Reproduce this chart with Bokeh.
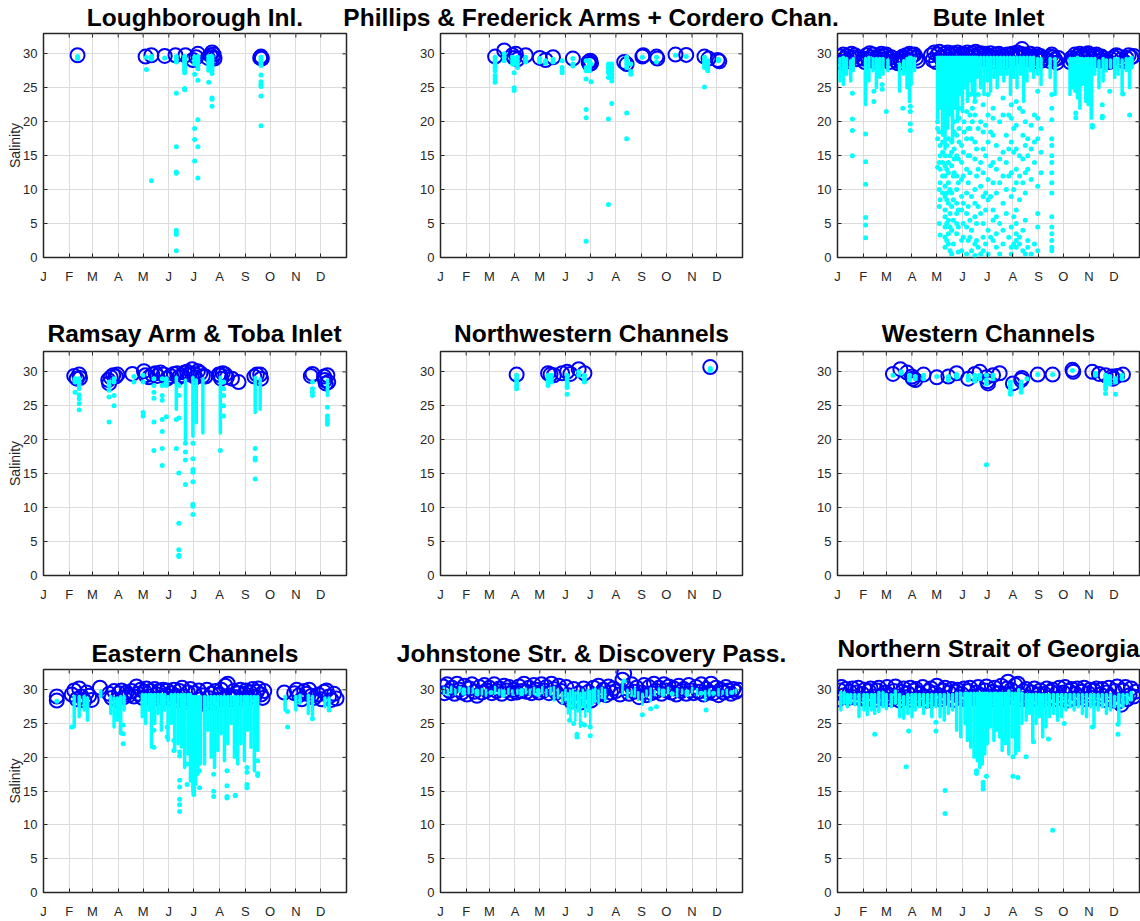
from bokeh.plotting import figure
from bokeh.layouts import column, row
from bokeh.models import FixedTicker, Range1d
from bokeh.embed import file_html
from bokeh.resources import INLINE
from bokeh.core.properties import value

# ---------------------------------------------------------------- axes data
MONTH_DAYS = [1, 32, 60, 91, 121, 152, 182, 213, 244, 274, 305, 335]
MONTH_LABELS = ["J", "F", "M", "A", "M", "J", "J", "A", "S", "O", "N", "D"]
SAL_TICKS = [0, 5, 10, 15, 20, 25, 30]
Y_LABEL = "Salinity"
TITLES = [
    "Loughborough Inl.", "Phillips & Frederick Arms + Cordero Chan.", "Bute Inlet",
    "Ramsay Arm & Toba Inlet", "Northwestern Channels", "Western Channels",
    "Eastern Channels", "Johnstone Str. & Discovery Pass.", "Northern Strait of Georgia",
]

# ---------------------------------------------------------------- Loughborough Inl.
LOUGH_CIRCLES = [(42, 29.8), (124, 29.6), (131, 29.8), (147, 29.7), (160, 29.8), (172, 29.8),
                 (181, 29.1), (185, 29.5), (187, 30.0), (199, 29.4), (202, 29.8), (204, 30.2),
                 (205, 29.5), (206, 29.9), (207, 29.3), (262, 29.4), (263, 29.6), (264, 29.3)]
LOUGH_SEGS = []
LOUGH_CASTS = [
    (42, [29.6, 29.3]),
    (125, [29.5, 27.7]),
    (131, [29.6, 29.2, 11.3]),
    (147, [29.4]),
    (161, [29.6, 29.2, 28.8, 24.2, 16.3, 12.6, 12.4, 4.0, 3.7, 3.4, 1.0]),
    (171, [29.6, 29.2, 28.8, 28.4, 28.0, 27.6, 27.2, 24.9, 24.7]),
    (183, [29.5, 29.0, 28.5, 27.0, 19.0, 17.4, 14.2]),
    (187, [29.6, 29.2, 28.8, 28.3, 27.8, 26.1, 20.3, 16.3, 11.7]),
    (200, [29.6, 29.2, 28.8, 28.4, 28.0, 27.6, 25.8]),
    (204, [29.6, 29.2, 28.8, 28.4, 28.0, 27.6, 27.1, 23.5, 23.3, 22.3]),
    (263, [29.5, 29.1, 28.7, 28.3, 26.9, 25.9, 25.5, 25.2, 23.8, 19.4]),
]

# ---------------------------------------------------------------- Phillips & Frederick
PHIL_CIRCLES = [(67, 29.6), (78, 30.5), (88, 29.8), (90, 29.4), (92, 30.0), (94, 29.2), (104, 29.8),
                (121, 29.4), (128, 29.1), (137, 29.5), (161, 29.3), (180, 28.8), (181, 28.5),
                (182, 29.0), (183, 28.6), (223, 28.8), (226, 28.5), (245, 29.6), (246, 29.8),
                (262, 29.6), (263, 29.3), (285, 29.9), (298, 29.85), (320, 29.6), (325, 29.3),
                (336, 29.1), (338, 28.9)]
PHIL_SEGS = []
PHIL_CASTS = [
    (67, [29.5, 29.0, 28.5, 28.0, 27.5, 26.8, 26.3, 25.8]),
    (78, [30.0, 29.5, 29.0]),
    (88, [29.5, 29.0, 28.5]),
    (90, [29.0, 28.5, 27.2, 25.0, 24.6]),
    (94, [29.5, 29.0, 28.5, 28.0]),
    (104, [29.5, 29.0, 28.8]),
    (121, [29.3, 28.8]),
    (128, [29.0, 28.6]),
    (137, [29.2, 28.8]),
    (148, [29.0, 28.0, 27.5, 27.2]),
    (161, [29.3, 28.5, 28.2]),
    (177, [29.0, 28.0, 27.5, 26.3, 21.8, 20.6, 2.4]),
    (181, [29.0, 28.5, 28.0, 27.5]),
    (183, [28.5, 25.9]),
    (204, [28.5, 28.0, 27.5, 27.2, 26.5, 20.4, 7.8]),
    (208, [28.5, 28.0, 27.5, 27.0, 26.5, 26.0, 22.7]),
    (226, [29.5, 29.0, 28.5, 28.0, 21.3, 17.5]),
    (231, [28.5, 27.4, 27.0]),
    (245, [29.5]),
    (262, [29.5, 28.8]),
    (285, [29.8]),
    (298, [29.6]),
    (320, [29.5, 29.0, 28.5, 28.0, 25.1]),
    (324, [29.0, 28.5, 27.8, 27.5]),
    (337, [29.2, 29.0]),
]

# ---------------------------------------------------------------- Bute Inlet
BUTE_CIRCLES = [
    (2, 29.0), (4, 29.6), (6, 28.7), (8, 29.9), (10, 29.3), (12, 29.7), (14, 28.9), (16, 29.4),
    (18, 30.0), (20, 29.5), (22, 29.8), (24, 29.2),
    (32, 29.3), (34, 28.8), (36, 29.8), (38, 29.2), (40, 30.1), (42, 29.5), (44, 29.9), (46, 28.9),
    (48, 29.4), (50, 28.8), (52, 29.7), (54, 30.0), (56, 29.2), (58, 29.7), (60, 29.9), (62, 29.3),
    (64, 28.8), (66, 29.5),
    (72, 29.0), (74, 28.6), (76, 29.3), (78, 28.8), (80, 29.6), (82, 29.3), (84, 29.8), (86, 29.1),
    (88, 30.0), (90, 29.5), (92, 29.8), (94, 29.9), (96, 29.4), (98, 29.0),
    (114, 29.8), (116, 29.1), (118, 30.2), (120, 28.8), (122, 29.9), (124, 30.3), (126, 29.4),
    (128, 28.9), (130, 30.0), (132, 29.6), (134, 30.2), (136, 29.2), (138, 29.8), (140, 30.1),
    (142, 29.4), (144, 29.9), (146, 30.2), (148, 29.3), (150, 29.7), (152, 30.0), (154, 29.1),
    (156, 29.8), (158, 30.2), (160, 29.5), (162, 29.0), (164, 30.1), (166, 29.7), (168, 30.3),
    (170, 29.4), (172, 29.9), (174, 30.1), (176, 29.3), (178, 29.8), (180, 30.0), (182, 29.2),
    (184, 29.7), (186, 30.1), (188, 29.5), (190, 28.9), (192, 29.9), (194, 29.4), (196, 30.0),
    (198, 29.1), (200, 29.7), (202, 28.8), (204, 29.5), (206, 29.9), (208, 29.2), (210, 29.8),
    (212, 30.0), (214, 29.4), (216, 29.9), (218, 30.2), (220, 29.6), (222, 30.0), (224, 30.7),
    (226, 29.5), (228, 29.9), (230, 29.2), (232, 29.7), (234, 30.0), (236, 29.4), (238, 28.9),
    (240, 29.6), (242, 29.9), (244, 29.3), (246, 29.7), (248, 29.0), (250, 29.4),
    (256, 29.0), (258, 29.6), (260, 29.9), (262, 29.5), (264, 29.2), (266, 28.7), (268, 29.4),
    (282, 28.8), (284, 29.4), (286, 29.0), (288, 29.9), (290, 29.6), (292, 29.2), (294, 30.0),
    (296, 29.5), (298, 29.8), (300, 29.3), (302, 29.9), (304, 30.1), (306, 29.6), (308, 29.2),
    (310, 29.8), (312, 29.5), (314, 29.9), (316, 29.4), (318, 29.0), (320, 29.6), (323, 29.3),
    (326, 29.0), (329, 28.8), (332, 29.2), (335, 29.5), (338, 29.8), (341, 29.6), (344, 29.2),
    (347, 28.9), (350, 29.4), (353, 29.8), (356, 29.5), (359, 29.7),
]
BUTE_SEGS = [
    (4, 26.0, 29.3), (8, 25.5, 29.5), (12, 27.0, 29.3), (17, 26.0, 29.0), (20, 27.5, 29.3),
    (35, 22.5, 29.3), (39, 26.0, 29.5), (44, 27.5, 29.3), (48, 25.0, 29.3), (52, 26.5, 29.3),
    (56, 27.0, 29.3), (62, 27.5, 29.1),
    (76, 24.5, 28.5), (81, 27.0, 29.0), (85, 25.0, 29.3), (88, 23.0, 29.5), (90, 25.5, 29.5),
    (94, 27.5, 29.3),
    (122, 20.5, 29.5), (125, 22.0, 29.5), (128, 18.0, 29.5), (131, 16.0, 29.5), (134, 19.0, 29.5),
    (137, 21.0, 29.5), (140, 17.0, 29.5), (143, 22.0, 29.5), (146, 20.0, 29.5), (149, 24.0, 29.5),
    (152, 21.5, 29.5), (155, 25.0, 29.5), (158, 23.0, 29.5), (161, 26.0, 29.5), (164, 24.0, 29.5),
    (167, 23.0, 29.5), (170, 26.5, 29.5), (174, 25.0, 29.5), (178, 24.0, 29.5), (182, 26.0, 29.5),
    (186, 24.5, 29.5), (190, 26.5, 29.5), (194, 25.0, 29.5), (198, 27.0, 29.5), (202, 26.0, 29.5),
    (206, 27.0, 29.5), (210, 24.0, 29.5), (214, 26.5, 29.5), (218, 25.0, 29.5), (222, 27.0, 29.5),
    (226, 23.0, 29.5), (230, 26.0, 29.5), (234, 27.5, 29.5), (238, 26.5, 29.5), (243, 27.0, 29.3),
    (247, 25.5, 29.3),
    (258, 26.5, 29.3), (264, 24.0, 29.3),
    (282, 24.0, 29.3), (285, 25.0, 29.3), (288, 24.5, 29.3), (291, 23.5, 29.5), (294, 22.0, 29.3),
    (297, 25.5, 29.3), (301, 23.0, 29.3), (304, 22.5, 29.3), (308, 20.5, 29.3), (312, 27.0, 29.3),
    (317, 25.0, 29.0), (322, 26.0, 29.3), (326, 27.5, 29.1), (331, 28.0, 29.1), (336, 26.5, 29.3),
    (340, 27.0, 29.3), (345, 24.0, 29.1), (350, 27.5, 29.3), (354, 25.0, 29.3), (357, 28.0, 29.5),
]
BUTE_CASTS = [
    (19, [24.2, 20.4, 18.7, 15.0]),
    (35, [18.2, 14.1, 10.8, 5.9, 4.8, 2.9]),
    (45, [24.5, 23.0]),
    (55, [25.5, 24.8]),
    (60, [21.5]),
    (80, [22.0]),
    (89, [22.3, 21.5, 19.7, 18.7]),
    (122, [20.0, 19.0, 17.5, 13.3]),
    (124, [18.5, 14.0, 10.0, 7.5, 5.0]),
    (125, [16.5, 15.0, 13.0, 11.0, 8.5, 3.3]),
    (128, [17.0, 15.5, 14.0, 12.0, 9.5]),
    (131, [15.0, 13.5, 12.0, 10.5, 9.0, 7.0, 6.0, 4.5, 3.0, 1.5]),
    (133, [16.5, 13.0, 9.5, 8.5, 5.0, 2.5]),
    (135, [17.5, 14.0, 12.5, 11.0, 8.0, 5.5, 3.5, 2.0]),
    (137, [15.0, 10.0, 6.5, 4.5, 1.0]),
    (139, [17.0, 15.5, 13.5, 9.5, 7.5, 4.0, 0.5]),
    (141, [12.0, 8.5, 5.5, 2.0]),
    (142, [20.0, 18.5, 16.0, 14.5, 12.5]),
    (145, [18.0, 15.0, 12.0, 10.0, 8.0, 6.5, 5.0, 3.5]),
    (147, [14.5, 11.0, 7.0, 4.5, 0.8]),
    (148, [22.0, 20.5, 19.0, 17.0]),
    (151, [16.5, 14.0, 11.5, 9.0, 7.0, 2.5, 1.0]),
    (153, [15.5, 12.0, 8.0, 5.0, 3.0]),
    (154, [20.0, 18.5]),
    (157, [21.5, 17.5, 13.0, 9.5, 6.5, 4.5, 0.5]),
    (159, [19.0, 15.0, 11.0, 7.5, 2.5]),
    (161, [24.0, 21.0, 19.0, 15.0, 12.5, 5.5, 3.0]),
    (163, [17.5, 9.0, 4.0, 1.0]),
    (164, [22.0, 20.0]),
    (167, [23.0, 21.0, 17.0, 14.5, 10.0, 8.0, 6.0, 2.0, 0.3]),
    (169, [16.0, 12.0, 5.0, 2.5]),
    (171, [24.0, 19.0, 13.0, 7.5, 1.5]),
    (174, [20.0, 14.0, 10.5, 6.5, 0.5]),
    (177, [22.5, 18.5, 16.0, 12.5, 9.0, 5.0, 3.0, 1.0]),
    (180, [19.5, 15.0, 9.5, 7.0, 2.0]),
    (183, [24.0, 21.0, 17.0, 11.5, 8.5, 4.0, 0.5]),
    (186, [18.5, 13.5, 9.0, 3.0]),
    (189, [22.0, 20.5, 18.0, 14.0, 11.0, 7.0, 5.5, 2.5]),
    (193, [16.5, 13.0, 9.5, 6.0, 3.5, 1.5]),
    (197, [20.0, 14.5, 11.0, 5.0, 0.5]),
    (201, [23.5, 21.0, 15.5, 12.0, 8.0, 4.0, 2.0]),
    (205, [18.0, 14.0, 10.0, 6.5]),
    (208, [21.0, 16.0, 12.0, 3.0]),
    (211, [22.5, 20.5, 17.0, 12.5, 9.0, 4.5, 1.5, 0.5]),
    (214, [19.0, 15.5, 10.0, 6.0, 2.0]),
    (217, [23.0, 19.5, 16.0, 13.0, 11.0, 7.0, 5.0, 3.5, 2.5, 1.5]),
    (221, [22.0, 15.0, 12.0, 8.5, 3.0, 2.0]),
    (225, [21.5, 18.0, 14.5, 11.0, 4.0, 1.0]),
    (228, [20.0, 16.5, 12.5, 9.5, 5.5, 0.5]),
    (231, [17.5, 15.0, 13.0, 2.5, 1.5]),
    (235, [19.5, 16.0, 11.5, 0.5]),
    (239, [21.0, 17.0, 14.0, 2.0]),
    (243, [24.5, 20.5, 17.5, 10.5, 6.5, 4.5, 1.0]),
    (247, [19.0, 15.5, 12.5]),
    (260, [24.0, 22.0, 20.3, 17.5, 16.5, 15.0, 14.0, 12.5, 11.0, 9.5, 6.0, 4.5, 3.5, 2.5, 1.5, 1.0]),
    (289, [21.3, 20.6]),
    (309, [19.5, 19.2]),
    (321, [22.5, 20.8, 20.6]),
    (330, [24.5]),
    (346, [24.1]),
    (354, [21.0]),
]

# ---------------------------------------------------------------- Ramsay Arm & Toba Inlet
RAMSAY_CIRCLES = [
    (38, 29.4), (41, 29.0), (44, 29.6), (45, 29.1), (79, 28.8), (80, 28.3), (82, 29.2), (85, 29.5),
    (88, 29.3), (90, 29.6), (108, 29.7), (122, 30.1), (124, 29.5), (128, 29.2), (132, 29.6),
    (136, 29.8), (138, 29.4), (142, 29.9), (146, 29.6), (150, 29.0), (154, 29.4), (158, 29.7),
    (162, 29.8), (164, 29.2), (168, 29.5), (171, 29.9), (174, 30.0), (177, 29.6), (180, 30.4),
    (182, 29.7), (184, 29.2), (187, 30.1), (190, 29.8), (193, 29.4), (196, 29.3), (212, 29.6),
    (214, 29.5), (215, 29.0), (217, 29.8), (220, 29.6), (222, 29.2), (228, 29.0), (236, 28.5),
    (255, 29.3), (258, 29.6), (262, 29.6), (263, 29.0), (323, 29.4), (325, 29.7), (339, 29.3),
    (340, 28.8), (341, 28.3), (343, 29.5), (344, 28.5),
]
RAMSAY_SEGS = [(161, 24.5, 29.2), (172, 20.0, 28.8), (181, 20.5, 29.2), (185, 22.5, 28.8),
               (193, 21.0, 29.0), (214, 21.0, 29.2), (256, 24.0, 29.2), (262, 24.5, 29.0),
               (343, 26.5, 28.8)]
RAMSAY_CASTS = [
    (39, [29.0, 28.5, 27.0]),
    (44, [29.0, 28.5, 28.0, 27.5, 26.6, 26.0, 25.3, 24.4]),
    (80, [28.5, 28.0, 27.3, 26.3, 22.6]),
    (86, [29.0, 28.5, 26.5, 25.0]),
    (110, [29.3, 28.5]),
    (121, [29.5, 28.5, 24.0, 23.5]),
    (134, [29.0, 28.0, 27.0, 26.1, 22.6, 18.4]),
    (144, [29.0, 28.0, 26.5, 25.8, 23.0, 21.2, 18.7, 16.2]),
    (149, [29.0, 28.5, 28.0, 23.4]),
    (161, [23.0, 18.7]),
    (164, [28.0, 26.5, 23.2, 15.1, 7.7, 3.8, 3.0, 2.8]),
    (172, [19.5, 18.2, 17.0, 13.4]),
    (181, [19.5, 17.2, 15.6, 15.2, 13.8, 10.5, 10.2, 9.0]),
    (214, [18.4]),
    (218, [28.5, 27.5, 26.5, 25.0, 23.5]),
    (256, [18.7, 17.3, 17.0, 14.2]),
    (325, [28.5, 27.5, 27.0, 26.5]),
    (343, [24.8, 23.5, 23.0, 22.6, 22.3]),
]

# ---------------------------------------------------------------- Northwestern Channels
NW_CIRCLES = [(93, 29.6), (131, 29.8), (134, 29.6), (138, 29.5), (148, 29.8), (154, 30.0),
              (158, 29.7), (168, 30.4), (175, 29.8), (327, 30.7)]
NW_SEGS = []
NW_CASTS = [
    (93, [29.5, 29.0, 28.5, 28.0, 27.5]),
    (131, [29.5, 29.0, 28.5, 28.0]),
    (135, [29.5, 29.0, 28.5]),
    (154, [29.5, 29.0, 28.5, 28.0, 27.7, 26.7]),
    (168, [30.0, 29.5]),
    (175, [29.5, 29.0, 28.5]),
    (327, [30.5, 30.2]),
]

# ---------------------------------------------------------------- Western Channels
WEST_CIRCLES = [(68, 29.7), (77, 30.4), (85, 29.9), (91, 29.3), (92, 29.0), (95, 28.8), (105, 29.6),
                (121, 29.2), (135, 29.3), (145, 29.8), (159, 29.0), (167, 29.7), (173, 30.0),
                (181, 29.2), (182, 28.6), (183, 28.3), (189, 29.5), (197, 29.8), (213, 28.3),
                (223, 28.8), (224, 29.1), (243, 29.6), (261, 29.6), (285, 30.3), (286, 30.0),
                (309, 30.0), (317, 29.7), (325, 29.5), (333, 29.3), (334, 29.0), (339, 29.4),
                (346, 29.6)]
WEST_SEGS = []
WEST_CASTS = [
    (68, [29.5]), (78, [30.0, 29.8]), (88, [29.5, 29.0, 28.8]), (95, [29.3, 29.0]),
    (105, [29.5, 29.0]), (121, [29.3]), (135, [29.3, 29.0, 28.8]), (145, [29.6, 29.2]),
    (159, [29.4, 29.0, 28.8]), (167, [29.5, 29.0, 28.6]), (173, [29.5, 29.0]),
    (181, [29.5, 28.8, 28.2, 16.3]), (189, [29.5, 29.0]), (210, [28.5, 28.0, 27.5, 27.0, 26.7]),
    (223, [28.5, 28.0, 27.5, 27.0]), (230, [29.0]), (243, [29.6]), (261, [29.6]), (285, [30.2]),
    (313, [29.8, 29.5]), (325, [29.5, 29.0, 28.5, 28.0, 27.5, 26.8]),
    (330, [29.3, 29.0, 28.5, 28.2]), (337, [29.0, 28.5, 26.7]), (345, [29.5, 29.0]),
]

# ---------------------------------------------------------------- Eastern Channels
EAST_CIRCLES = [
    (17, 29.0), (17, 28.4),
    (35, 29.3), (38, 29.9), (41, 28.6), (44, 30.2), (47, 29.0), (50, 28.4), (53, 29.6), (56, 29.1),
    (59, 28.5), (69, 30.3),
    (80, 29.4), (83, 28.8), (86, 29.8), (89, 28.5), (92, 29.5), (95, 29.9), (98, 28.9), (101, 29.6),
    (104, 29.2), (107, 29.8), (110, 29.0),
    (113, 30.5), (115, 29.4), (118, 30.0), (120, 28.8), (123, 29.7), (125, 30.2), (128, 29.0),
    (130, 29.8), (133, 28.6), (135, 30.1), (138, 29.3), (140, 29.8), (143, 28.9), (145, 30.0),
    (148, 29.2), (150, 29.9), (153, 28.7), (155, 29.5), (158, 30.0), (160, 29.1), (163, 28.5),
    (165, 29.8), (168, 30.3), (170, 29.0), (173, 28.2), (175, 29.6), (178, 30.1), (180, 28.4),
    (183, 29.5), (185, 27.8), (188, 29.9), (190, 28.6), (193, 29.2), (195, 27.9), (198, 30.0),
    (200, 28.8), (203, 29.4), (205, 28.1), (208, 29.8), (210, 28.5), (213, 29.3), (215, 30.0),
    (218, 28.7), (220, 30.6), (223, 30.9), (225, 29.2), (228, 28.6), (230, 29.8), (233, 28.9),
    (235, 29.5), (238, 30.0), (240, 28.7), (243, 29.4), (245, 29.9), (248, 28.8), (250, 29.6),
    (253, 30.1), (255, 29.0), (258, 29.7), (260, 30.2), (263, 29.3), (265, 28.8), (267, 29.8),
    (291, 29.6), (303, 29.5), (306, 30.0), (309, 29.2), (312, 28.6), (315, 29.8), (318, 29.4),
    (321, 30.0), (324, 29.1), (327, 28.8), (332, 29.3), (336, 28.6), (339, 29.7), (342, 29.9),
    (345, 29.0), (348, 28.5), (351, 29.4), (354, 28.7),
]
EAST_SEGS = [
    (38, 24.5, 29.0), (44, 26.0, 29.0), (50, 27.0, 29.0), (54, 25.5, 28.8), (70, 29.0, 29.8),
    (82, 26.5, 29.0), (86, 24.5, 28.8), (90, 25.5, 28.8), (94, 23.5, 29.0), (98, 27.0, 29.0),
    (120, 26.0, 29.3), (124, 25.0, 29.3), (128, 27.0, 29.3), (131, 21.5, 29.3), (135, 25.0, 29.3),
    (139, 26.5, 29.3), (143, 24.0, 29.3), (147, 27.0, 29.3), (151, 22.5, 29.0), (155, 25.0, 29.3),
    (159, 21.0, 29.3), (163, 22.0, 29.3), (167, 21.5, 29.3), (171, 18.5, 29.3), (175, 20.5, 29.3),
    (178, 16.5, 29.3), (181, 15.0, 29.0), (184, 16.0, 29.0), (187, 17.5, 29.0), (190, 19.0, 29.0),
    (195, 19.0, 29.0), (199, 24.0, 29.0), (203, 20.0, 29.0), (207, 18.5, 29.0), (211, 21.0, 29.0),
    (215, 23.5, 29.0), (219, 19.5, 29.0), (223, 22.0, 29.0), (227, 25.0, 29.0), (231, 20.0, 29.0),
    (235, 19.0, 29.0), (239, 22.0, 29.0), (243, 19.5, 29.0), (247, 24.0, 29.0), (251, 21.5, 29.0),
    (255, 18.0, 29.0), (259, 21.0, 29.0),
    (292, 27.0, 29.0), (305, 27.0, 29.0), (310, 28.0, 29.2), (320, 26.5, 29.2), (325, 26.0, 29.0),
    (340, 27.5, 28.8), (345, 27.0, 28.8),
]
EAST_CASTS = [
    (17, [28.3]),
    (35, [24.5]),
    (97, [24.8, 23.5, 22.0]),
    (134, [24.0, 21.5]),
    (150, [24.5, 23.0]),
    (158, [22.5, 21.0]),
    (165, [20.8, 20.2, 16.6, 15.6, 13.8, 13.0, 12.0]),
    (174, [19.0, 16.0]),
    (182, [15.5, 15.0, 14.5]),
    (189, [18.0, 15.5]),
    (206, [17.5, 15.0, 14.2]),
    (222, [18.0, 15.8, 14.2, 14.0]),
    (232, [14.4, 14.3]),
    (246, [18.5, 17.8, 16.0, 15.5]),
    (259, [19.5, 17.6, 17.3]),
    (295, [26.8, 24.5]),
    (325, [25.7]),
    (345, [27.0]),
]

# ---------------------------------------------------------------- Johnstone Str. & Discovery Pass.
JOHN_CIRCLES = [
    (4, 30.5), (6, 29.5), (9, 30.8), (12, 29.8), (15, 30.3), (18, 29.4), (21, 30.9), (24, 30.0),
    (27, 29.6), (30, 30.6), (33, 29.3), (36, 30.2), (39, 30.8), (42, 29.7), (45, 29.1), (48, 30.4),
    (51, 29.6), (54, 30.7), (57, 29.9), (60, 30.3), (63, 29.5), (66, 30.8), (69, 29.8), (72, 30.2),
    (75, 29.4), (78, 30.6), (81, 29.9), (84, 30.4), (87, 29.5), (90, 30.0), (93, 29.6), (96, 30.5),
    (99, 29.8), (102, 30.9), (105, 29.7), (108, 30.3), (111, 29.5), (114, 30.7), (117, 30.0),
    (120, 29.6), (123, 30.8), (126, 29.9), (129, 30.4), (132, 29.5), (135, 30.9), (138, 30.1),
    (141, 29.6), (144, 30.6), (147, 29.8), (150, 28.9), (153, 30.4), (156, 29.2), (159, 28.3),
    (162, 30.1), (165, 28.8), (168, 29.5), (171, 28.1), (174, 30.2), (177, 28.6), (180, 29.7),
    (183, 28.4), (186, 30.3), (189, 29.1), (192, 30.6), (195, 29.4), (198, 30.0), (201, 29.2),
    (204, 30.5), (207, 29.6), (210, 30.2), (213, 29.8), (218, 29.3), (221, 31.5), (223, 32.4),
    (226, 30.2), (229, 29.4), (232, 30.8), (235, 29.7), (238, 30.3), (241, 28.9), (244, 29.6),
    (247, 30.7), (250, 29.2), (253, 30.4), (256, 29.5), (259, 30.9), (262, 29.8), (265, 30.3),
    (268, 29.4), (271, 30.8), (274, 29.9), (277, 30.5), (280, 29.6), (283, 30.2), (286, 29.3),
    (289, 30.6), (292, 29.8), (295, 30.1), (298, 29.4), (301, 30.7), (304, 29.9), (307, 29.5),
    (310, 30.4), (313, 29.7), (316, 30.8), (319, 29.3), (322, 30.1), (325, 29.6), (328, 30.9),
    (331, 29.5), (334, 30.3), (337, 29.2), (340, 30.0), (343, 29.6), (346, 30.4), (349, 29.9),
    (352, 29.4), (355, 30.1), (358, 29.7), (361, 30.0),
]
JOHN_SEGS = [
    (5, 29.4, 30.3), (10, 29.2, 30.0), (14, 29.6, 30.4), (19, 29.3, 30.0), (24, 29.7, 30.4),
    (35, 29.5, 30.3), (40, 29.6, 30.2), (51, 29.3, 30.1), (56, 29.1, 30.0),
    (67, 29.4, 30.4), (72, 29.3, 30.0), (83, 29.4, 30.1), (88, 29.3, 29.9), (94, 29.4, 30.0),
    (104, 29.5, 30.2), (109, 29.3, 30.0), (114, 29.4, 30.3), (124, 29.5, 30.4), (129, 29.1, 30.0),
    (134, 29.3, 30.3), (138, 28.4, 30.4), (143, 28.8, 30.0), (148, 28.0, 29.6), (152, 28.4, 30.0),
    (155, 26.5, 29.5), (158, 25.5, 29.8), (161, 27.2, 30.0), (164, 25.5, 29.6), (167, 26.8, 29.8),
    (170, 24.5, 29.5), (173, 27.5, 30.0), (176, 26.0, 29.6), (179, 26.8, 30.0), (182, 24.8, 29.8),
    (185, 27.8, 30.0), (188, 28.2, 30.2), (192, 28.0, 29.9), (196, 28.8, 30.3), (200, 28.3, 30.0),
    (221, 29.4, 31.3), (227, 28.8, 30.0), (232, 29.1, 29.8), (236, 29.0, 30.2),
    (240, 28.5, 29.6), (245, 27.8, 29.4), (250, 29.0, 29.9), (255, 28.3, 30.2), (260, 29.2, 29.8),
    (265, 29.4, 30.2), (276, 29.5, 30.3), (287, 29.0, 30.1),
    (293, 29.5, 30.0), (305, 29.6, 30.3), (311, 29.2, 30.1),
    (321, 28.4, 29.8), (326, 29.2, 30.0), (337, 29.2, 30.1), (342, 29.4, 29.8),
    (347, 29.3, 30.0), (358, 29.6, 30.0),
]
JOHN_CASTS = [
    (29, [29.5, 30.0]), (45, [29.4, 29.8]), (62, [29.6]), (77, [29.2, 29.7]), (99, [29.4, 29.9]),
    (119, [29.3, 29.9]),
    (157, [25.5]), (162, [25.0]), (166, [23.4, 23.0]), (171, [25.0]), (175, [24.8]),
    (182, [24.5, 23.2]), (223, [31.3]), (245, [26.3]), (255, [27.2]), (262, [27.5]),
    (270, [29.3, 29.8]), (281, [29.4]), (299, [29.3, 29.7]), (316, [29.5]), (322, [27.0]),
    (331, [29.5]), (353, [29.6]),
]

# ---------------------------------------------------------------- Northern Strait of Georgia
NSOG_CIRCLES = [
    (2, 28.6), (4, 29.9), (6, 30.4), (9, 29.2), (11, 30.1), (14, 28.8), (16, 29.7), (19, 30.2),
    (21, 28.9), (24, 29.6), (26, 30.3), (29, 28.7), (31, 29.4), (34, 30.0), (36, 28.6), (39, 29.8),
    (41, 30.2), (44, 29.0), (46, 28.5), (49, 29.9), (51, 30.3), (54, 29.1), (56, 28.7), (59, 29.6),
    (61, 30.4), (64, 29.2), (66, 28.6), (69, 29.8), (71, 30.5), (74, 29.0), (76, 28.4), (79, 29.7),
    (81, 30.2), (84, 28.9), (86, 29.5), (89, 30.3), (91, 28.5), (94, 29.9), (96, 30.1), (99, 28.8),
    (101, 29.4), (104, 30.4), (106, 29.0), (109, 28.4), (111, 29.8), (114, 30.2), (116, 28.7),
    (119, 29.5), (121, 30.6), (124, 29.1), (126, 28.6), (129, 29.9), (131, 30.3), (134, 28.8),
    (136, 29.6), (139, 30.1), (141, 28.5), (144, 29.7), (146, 30.0), (149, 28.9), (151, 29.4),
    (154, 30.2), (156, 28.6), (159, 29.8), (161, 30.3), (164, 29.0), (166, 28.7), (169, 29.6),
    (171, 30.4), (174, 29.2), (176, 28.5), (179, 29.9), (181, 30.5), (184, 29.0), (186, 28.6),
    (189, 29.7), (191, 30.3), (194, 28.9), (196, 29.5), (199, 30.6), (201, 29.1), (204, 28.7),
    (206, 30.2), (207, 31.2), (209, 29.4), (211, 30.0), (214, 28.8), (216, 30.7), (219, 30.9),
    (221, 29.3), (224, 28.6), (226, 29.8), (229, 30.1), (231, 28.9), (234, 28.4), (236, 29.6),
    (239, 30.2), (241, 28.7), (244, 29.3), (246, 29.9), (249, 28.5), (251, 29.4), (254, 30.2),
    (256, 28.8), (259, 29.7), (261, 30.0), (264, 28.6), (266, 29.5), (269, 30.3), (271, 28.9),
    (274, 29.6), (276, 30.4), (279, 28.4), (281, 29.8), (284, 30.1), (286, 28.7), (289, 29.4),
    (291, 30.2), (294, 28.9), (296, 29.7), (299, 30.3), (301, 28.6), (304, 29.5), (306, 30.0),
    (309, 28.8), (311, 29.9), (314, 30.2), (316, 28.7), (319, 29.3), (321, 30.1), (324, 28.5),
    (326, 29.6), (329, 30.3), (331, 29.0), (334, 28.4), (336, 29.8), (339, 30.5), (341, 28.3),
    (344, 27.8), (346, 29.9), (349, 30.4), (351, 28.6), (354, 29.2), (356, 30.2), (359, 29.0),
    (361, 29.7),
]
NSOG_SEGS = [
    (5, 27.0, 29.6), (9, 28.0, 29.6), (13, 27.5, 29.3), (17, 28.0, 29.3), (22, 27.8, 29.3),
    (27, 26.0, 29.3), (33, 27.0, 29.3), (37, 26.3, 29.3), (42, 27.0, 29.3), (46, 26.5, 29.3),
    (51, 26.8, 29.6), (56, 27.5, 29.6), (60, 27.2, 29.3), (66, 27.5, 29.3), (71, 28.0, 29.8),
    (76, 26.0, 29.3), (81, 25.8, 29.0), (86, 26.5, 29.3), (91, 26.0, 29.3), (95, 27.0, 29.3),
    (100, 27.5, 29.3), (105, 26.5, 29.3), (110, 27.5, 29.3), (115, 26.0, 29.3), (120, 27.5, 29.3),
    (125, 26.0, 29.3), (130, 25.5, 29.3), (135, 26.5, 29.3), (140, 27.0, 29.3),
    (145, 24.0, 29.5), (150, 23.0, 29.5), (155, 25.0, 29.5), (158, 22.5, 29.5), (162, 21.5, 29.5),
    (166, 20.0, 29.5), (170, 19.5, 29.5), (173, 18.5, 29.5), (176, 19.0, 29.5), (179, 20.5, 29.5),
    (182, 22.0, 29.5), (186, 24.5, 29.5), (190, 22.5, 29.5), (193, 24.0, 29.5), (197, 23.0, 29.5),
    (200, 21.0, 29.5), (204, 22.0, 29.5), (208, 20.5, 29.8), (212, 23.0, 29.5), (216, 20.5, 29.5),
    (220, 21.0, 30.0), (224, 25.0, 29.5),
    (229, 25.5, 29.3), (233, 26.5, 29.3), (237, 22.5, 29.3), (241, 25.0, 29.3), (245, 26.0, 29.3),
    (249, 23.0, 29.3), (253, 24.5, 29.3), (257, 26.0, 29.3), (262, 26.5, 29.3), (267, 25.5, 29.3),
    (272, 26.0, 29.3), (277, 27.0, 29.3), (282, 27.5, 29.3), (287, 27.0, 29.3), (292, 27.5, 29.3),
    (297, 26.5, 29.3), (302, 26.0, 29.3), (307, 27.5, 29.3), (311, 24.5, 29.3), (316, 27.0, 29.3),
    (321, 27.5, 29.3), (326, 26.5, 29.3), (331, 27.0, 29.3), (336, 27.5, 29.0), (341, 25.0, 29.3),
    (346, 27.5, 29.3), (351, 28.0, 29.3), (356, 28.5, 29.6),
]
NSOG_CASTS = [
    (46, [23.4]), (84, [18.6]), (87, [23.9]), (120, [25.2, 23.9]), (131, [15.1, 11.7]),
    (169, [18.0, 17.6]), (177, [16.3, 15.8, 15.3]), (181, [17.2]), (213, [17.2, 20.1]),
    (219, [17.0]), (229, [20.1]), (238, [22.3]), (256, [22.7]), (261, [9.2]), (275, [25.0]),
    (309, [24.5]), (340, [24.9, 23.4]),
]

PANELS = [
    (LOUGH_CIRCLES, LOUGH_SEGS, LOUGH_CASTS),
    (PHIL_CIRCLES, PHIL_SEGS, PHIL_CASTS),
    (BUTE_CIRCLES, BUTE_SEGS, BUTE_CASTS),
    (RAMSAY_CIRCLES, RAMSAY_SEGS, RAMSAY_CASTS),
    (NW_CIRCLES, NW_SEGS, NW_CASTS),
    (WEST_CIRCLES, WEST_SEGS, WEST_CASTS),
    (EAST_CIRCLES, EAST_SEGS, EAST_CASTS),
    (JOHN_CIRCLES, JOHN_SEGS, JOHN_CASTS),
    (NSOG_CIRCLES, NSOG_SEGS, NSOG_CASTS),
]

# ---------------------------------------------------------------- layout / style constants
TOTAL_W = 1140
COL_W = [405, 397, 338]
LEFT = [43, 35, 35]
FRAME_W = [303, 302, 302]
ROW_H = [257, 257, 254]
TOP = 2
FRAME_H = 224
STRIP_H = [31, 61, 61]
# vertical middle of each title, in px above the bottom of its strip
TITLE_MID = [[14.5, 14.5, 14.5], [15.8, 15.8, 15.8], [13.8, 13.8, 19.5]]
SEG_W = [3.5, 3.5, 3.5, 3.5, 3.5, 3.5, 3.5, 2.5, 3.5]
X_MIN, X_MAX = 1, 366
Y_MIN, Y_MAX = 0, 33
TICK_PX = 4

AX = "#262626"
FONT = "Liberation Sans"
BLUE = "#0000ff"
CYAN = "#00ffff"


def make_strip(r):
    h = STRIP_H[r]
    s = figure(width=TOTAL_W, height=h, x_range=Range1d(0, TOTAL_W), y_range=Range1d(0, h),
               output_backend="svg", toolbar_location=None, tools="",
               min_border=0, min_border_left=0, min_border_right=0, min_border_top=0,
               min_border_bottom=0, x_axis_location=None, y_axis_location=None,
               outline_line_color=None, background_fill_color="white", border_fill_color="white")
    s.grid.visible = False
    xs, off = [], 0
    for c in range(3):
        xs.append(off + LEFT[c] + FRAME_W[c] / 2)
        off += COL_W[c]
    s.text(x=xs, y=TITLE_MID[r], text=TITLES[3 * r:3 * r + 3], text_align="center",
           text_baseline="middle", text_font=value(FONT), text_font_style="bold",
           text_font_size="24.5px", text_color="black")
    return s


def make_panel(r, c, circles, segs, casts, seg_w):
    w, h = COL_W[c], ROW_H[r]
    p = figure(width=w, height=h, x_range=Range1d(X_MIN, X_MAX), y_range=Range1d(Y_MIN, Y_MAX),
               output_backend="svg", toolbar_location=None, tools="",
               min_border_left=LEFT[c], min_border_right=w - LEFT[c] - FRAME_W[c],
               min_border_top=TOP, min_border_bottom=h - TOP - FRAME_H,
               background_fill_color="white", border_fill_color="white")
    p.xaxis.ticker = FixedTicker(ticks=MONTH_DAYS)
    p.xaxis.major_label_overrides = {d: m for d, m in zip(MONTH_DAYS, MONTH_LABELS)}
    p.yaxis.ticker = FixedTicker(ticks=SAL_TICKS)
    for ax in p.xaxis + p.yaxis:
        ax.major_tick_in = TICK_PX
        ax.major_tick_out = 0
        ax.minor_tick_line_color = None
        ax.axis_line_color = None
        ax.major_tick_line_color = AX
        ax.major_label_text_font = FONT
        ax.major_label_text_font_size = "13px"
        ax.major_label_text_color = AX
    p.xaxis.major_label_standoff = 11
    p.yaxis.major_label_standoff = 6
    if c == 0:
        p.yaxis.axis_label = Y_LABEL
        p.yaxis.axis_label_text_font = FONT
        p.yaxis.axis_label_text_font_size = "14px"
        p.yaxis.axis_label_text_font_style = "normal"
        p.yaxis.axis_label_text_color = AX
        p.yaxis.axis_label_standoff = -3
    p.grid.grid_line_color = "#dcdcdc"
    p.grid.grid_line_width = 1
    p.outline_line_color = AX
    p.outline_line_width = 1.5

    # inner tick marks on the top and right edges (box style)
    tx = TICK_PX * (X_MAX - X_MIN) / FRAME_W[c]
    ty = TICK_PX * (Y_MAX - Y_MIN) / FRAME_H
    p.segment(x0=MONTH_DAYS, y0=[Y_MAX] * 12, x1=MONTH_DAYS, y1=[Y_MAX - ty] * 12,
              line_color=AX, line_width=1)
    p.segment(x0=[X_MAX] * 7, y0=SAL_TICKS, x1=[X_MAX - tx] * 7, y1=SAL_TICKS,
              line_color=AX, line_width=1)

    cx = [d for d, s in circles]
    cy = [s for d, s in circles]
    p.scatter(cx, cy, size=14, marker="circle", fill_color=None, line_color=BLUE, line_width=2)
    if segs:
        sd = [d for d, lo, hi in segs]
        slo = [lo for d, lo, hi in segs]
        shi = [hi for d, lo, hi in segs]
        p.segment(x0=sd, y0=slo, x1=sd, y1=shi, line_color=CYAN, line_width=seg_w, line_cap="round")
    dx, dy = [], []
    for d, vals in casts:
        for v in vals:
            dx.append(d)
            dy.append(v)
    p.scatter(dx, dy, size=5, marker="circle", fill_color=CYAN, line_color=None)
    return p


rows = []
for r in range(3):
    rows.append(make_strip(r))
    figs = [make_panel(r, c, *PANELS[3 * r + c], SEG_W[3 * r + c]) for c in range(3)]
    rows.append(row(*figs))
layout = column(*rows)

open("out.html", "w").write(file_html(layout, INLINE))
